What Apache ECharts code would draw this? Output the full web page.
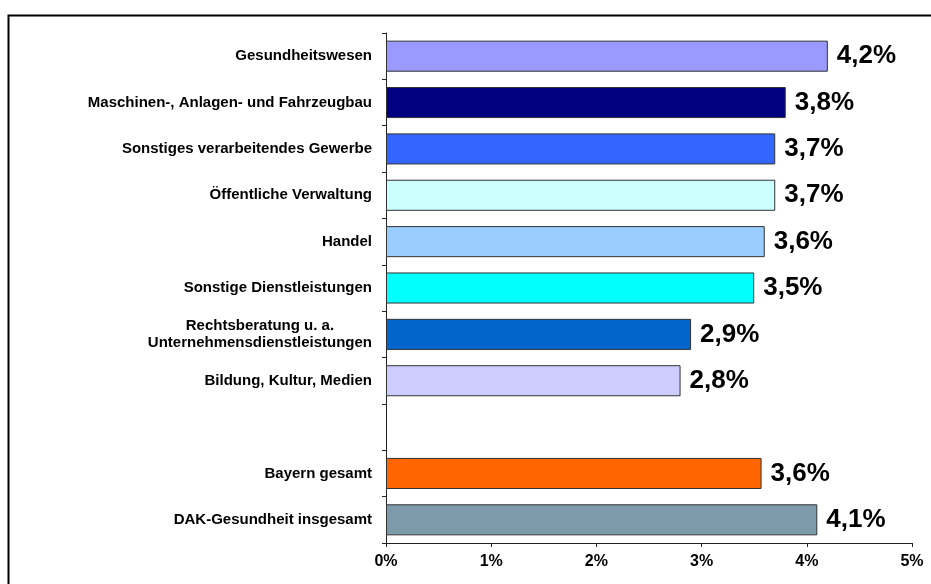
<!DOCTYPE html>
<html>
<head>
<meta charset="utf-8">
<script src="https://cdn.jsdelivr.net/npm/echarts@6/dist/echarts.min.js"></script>
<style>
  html, body { margin: 0; padding: 0; background: #fff; }
  #chart { width: 931px; height: 584px; }
</style>
</head>
<body>
<div id="chart"></div>
<script>
// Branchen von oben nach unten (leere Zeile als Abstand vor den Gesamtwerten)
const categories = [
  "Gesundheitswesen",
  "Maschinen-, Anlagen- und Fahrzeugbau",
  "Sonstiges verarbeitendes Gewerbe",
  "Öffentliche Verwaltung",
  "Handel",
  "Sonstige Dienstleistungen",
  "Rechtsberatung u. a.\nUnternehmensdienstleistungen",
  "Bildung, Kultur, Medien",
  "",
  "Bayern gesamt",
  "DAK-Gesundheit insgesamt"
];
// Krankenstand in %
const values = [4.2, 3.8, 3.7, 3.7, 3.6, 3.5, 2.9, 2.8, null, 3.57, 4.1];
const barColors = [
  "#9999ff", "#000080", "#3366ff", "#ccffff", "#99ccff",
  "#00ffff", "#0066cc", "#ccccff", "#ffffff", "#ff6600", "#7d9aab"
];
const xTicks = [0, 1, 2, 3, 4, 5];

const chart = echarts.init(document.getElementById("chart"));

const fmt = v => v.toFixed(1).replace(".", ",") + "%";

chart.setOption({
  animation: false,
  backgroundColor: "#fff",
  textStyle: { fontFamily: "Liberation Sans, Arial, sans-serif" },
  grid: { left: 386, right: 19, top: 33, bottom: 41, containLabel: false },
  xAxis: {
    type: "value",
    min: xTicks[0],
    max: xTicks[xTicks.length - 1],
    interval: 1,
    splitLine: { show: false },
    axisLine: { show: true, lineStyle: { color: "#222", width: 1 } },
    axisTick: { show: true, length: 4, lineStyle: { color: "#222" } },
    axisLabel: {
      margin: 11,
      color: "#000",
      fontWeight: "bold",
      fontSize: 16,
      formatter: v => v + "%"
    }
  },
  yAxis: {
    type: "category",
    inverse: true,
    data: categories,
    axisLine: { show: true, lineStyle: { color: "#222", width: 1 } },
    axisTick: { show: true, length: 4, interval: 0, lineStyle: { color: "#222" } },
    axisLabel: {
      interval: 0,
      margin: 14,
      color: "#000",
      fontWeight: "bold",
      fontSize: 15,
      lineHeight: 17,
      formatter: v => v ? v.split("\n").map(s => "{c|" + s + "}").join("\n") : "",
      rich: {
        c: { align: "center", fontWeight: "bold", fontSize: 15, lineHeight: 17, color: "#000" }
      }
    }
  },
  series: [
    {
      type: "bar",
      barCategoryGap: "33%",
      data: values.map((v, i) => ({
        value: v,
        itemStyle: { color: barColors[i], borderColor: "#333", borderWidth: 1 }
      })),
      label: {
        show: true,
        position: "right",
        distance: 9,
        color: "#000",
        fontWeight: "bold",
        fontSize: 26,
        formatter: p => (p.value == null ? "" : fmt(p.value))
      }
    }
  ],
  graphic: [
    {
      type: "rect",
      shape: { x: 8.5, y: 15.5, width: 940, height: 600 },
      style: { fill: "none", stroke: "#000", lineWidth: 2 },
      silent: true
    }
  ]
});
</script>
</body>
</html>
